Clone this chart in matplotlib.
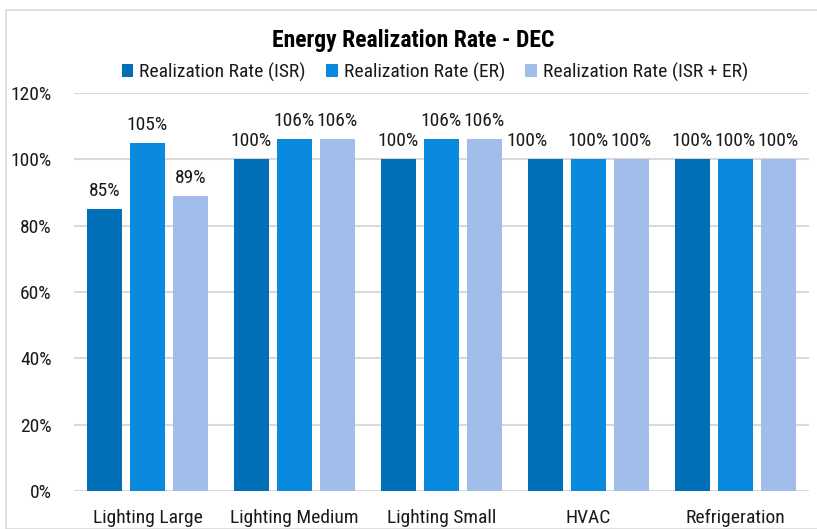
import matplotlib
matplotlib.use("Agg")
import matplotlib.pyplot as plt
from matplotlib.patches import Rectangle
from matplotlib.ticker import PercentFormatter
import numpy as np

plt.rcParams['font.family'] = ['Roboto Condensed', 'DejaVu Sans']

categories = ["Lighting Large", "Lighting Medium", "Lighting Small", "HVAC", "Refrigeration"]
series_names = ["Realization Rate (ISR)", "Realization Rate (ER)", "Realization Rate (ISR + ER)"]
isr = [85, 100, 100, 100, 100]
er = [105, 106, 106, 100, 100]
isr_er = [89, 106, 106, 100, 100]
y_ticks = [0, 20, 40, 60, 80, 100, 120]

colors = ["#006FB7", "#0A8ADF", "#A1BEEA"]
grid_color = "#D9D9D9"
text_color = "#1a1a1a"

W, H = 817, 529
fig = plt.figure(figsize=(W / 100, H / 100), dpi=100)

# outer chart frame
fig.patches.append(Rectangle((6 / W, 0), 2, (H - 10) / H, transform=fig.transFigure,
                             fill=False, edgecolor=grid_color, linewidth=1.2))

ax = fig.add_axes([74 / W, (H - 491) / H, (809 - 74) / W, (491 - 93) / H])

x = np.arange(len(categories))
width = 0.238
step = 0.2925
all_series = [isr, er, isr_er]

# per-label horizontal nudge in pixels (series index, category index)
label_shift = {(0, 3): -18}

for i, (vals, name, col) in enumerate(zip(all_series, series_names, colors)):
    pos = x + (i - 1) * step
    ax.bar(pos, vals, width=width, color=col, label=name, zorder=3)
    for j, (p, v) in enumerate(zip(pos, vals)):
        dx = label_shift.get((i, j), 0) * 72 / 100
        ax.annotate(f"{v:.0f}%", (p, v), xytext=(dx, 9.5), textcoords="offset points",
                    ha="center", va="baseline", fontsize=14, color=text_color)

ax.set_xlim(-0.5, len(categories) - 0.5)
ax.set_ylim(0, 120)
ax.set_yticks(y_ticks)
ax.yaxis.set_major_formatter(PercentFormatter(decimals=0))
ax.set_xticks(x)
ax.set_xticklabels(categories)
ax.tick_params(axis="both", length=0, labelsize=14, colors=text_color)
ax.tick_params(axis="y", pad=16)
ax.tick_params(axis="x", pad=13)
ax.grid(axis="y", color=grid_color, linewidth=1.5, zorder=0)
ax.set_axisbelow(True)
for s in ax.spines.values():
    s.set_visible(False)

fig.text(413 / W, 1 - 40 / H, "Energy Realization Rate - DEC", ha="center", va="center",
         fontsize=17, fontweight="bold", color="#000000")

fig.legend(loc="center", bbox_to_anchor=(435 / W, 1 - 72 / H), ncol=3, frameon=False,
           fontsize=14, handlelength=0.6, handleheight=0.6, handletextpad=0.3,
           columnspacing=1.05, borderaxespad=0, labelcolor=text_color)

fig.savefig("out.png", dpi=100)
